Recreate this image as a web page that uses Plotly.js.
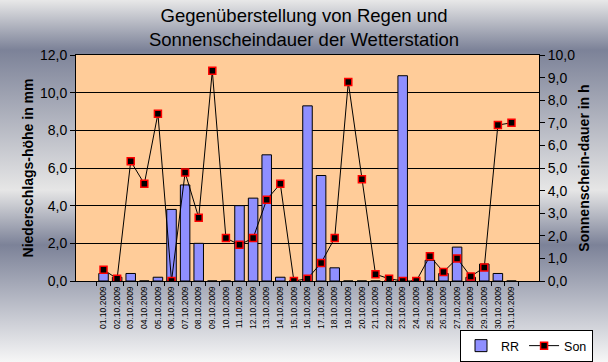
<!DOCTYPE html>
<html>
<head>
<meta charset="utf-8">
<script src="https://cdn.plot.ly/plotly-3.0.1.min.js"></script>
<style>
html,body{margin:0;padding:0;}
body{width:608px;height:362px;overflow:hidden;
background:linear-gradient(to bottom,#e8e8e8 0px,#7c8298 50px,#e6e6e6 190px,#7c8298 245px,#f6f6f6 362px);}
#chart{width:608px;height:362px;}
</style>
</head>
<body>
<div id="chart"></div>
<script>
const dates = ["01.10.2009","02.10.2009","03.10.2009","04.10.2009","05.10.2009","06.10.2009","07.10.2009","08.10.2009","09.10.2009","10.10.2009","11.10.2009","12.10.2009","13.10.2009","14.10.2009","15.10.2009","16.10.2009","17.10.2009","18.10.2009","19.10.2009","20.10.2009","21.10.2009","22.10.2009","23.10.2009","24.10.2009","25.10.2009","26.10.2009","27.10.2009","28.10.2009","29.10.2009","30.10.2009","31.10.2009"];
const rainMM = [0.4,0.2,0.4,0.0,0.2,3.8,5.1,2.0,0.0,0.0,4.0,4.4,6.7,0.2,0.0,9.3,5.6,0.7,0.0,0.0,0.0,0.0,10.9,0.0,1.1,0.4,1.8,0.2,0.9,0.4,0.0];
const sunH = [0.5,0.1,5.3,4.3,7.4,0.0,4.8,2.8,9.3,1.9,1.6,1.9,3.6,4.3,0.0,0.1,0.8,1.9,8.8,4.5,0.3,0.1,0.0,0.0,1.1,0.4,1.0,0.2,0.6,6.9,7.0];
const seriesNames = ["RR","Son"];
const titleText = "Gegenüberstellung von Regen und<br>Sonnenscheindauer der Wetterstation";
const yTitle = "Niederschlags-höhe in mm";
const y2Title = "Sonnenschein-dauer in h";

const F = "Liberation Sans, Arial, sans-serif";

const traces = [
  {type:"bar", name:seriesNames[0], x:dates, y:rainMM, yaxis:"y",
   marker:{color:"#ffffff", line:{color:"#000000", width:1},
     pattern:{shape:".", fgcolor:"#0000ff", bgcolor:"#ffffff", size:2, solidity:0.5}},
   hoverinfo:"skip"},
  {type:"scatter", mode:"lines+markers", name:seriesNames[1], x:dates, y:sunH, yaxis:"y2",
   line:{color:"#000000", width:1},
   marker:{symbol:"square", size:7, color:"#000000", line:{color:"#ff0000", width:1.5}},
   hoverinfo:"skip"}
];

const layout = {
  width:608, height:362,
  paper_bgcolor:"rgba(0,0,0,0)",
  plot_bgcolor:"#ffcc99",
  separators:",.",
  margin:{l:76, r:69, t:55, b:81, pad:0},
  font:{family:F, color:"#000000", size:12},
  title:{text:titleText, font:{family:F, size:18.5, color:"#000000"},
    x:0.5, xref:"container", y:1-22/362, yref:"container", yanchor:"top", xanchor:"center"},
  bargap:0.3,
  showlegend:true,
  legend:{orientation:"h", xref:"container", yref:"container", x:593/608, xanchor:"right",
    y:1-330/362, yanchor:"top", bgcolor:"#ffffff", bordercolor:"#000000", borderwidth:1,
    font:{family:F, size:12.5, color:"#000000"}, itemwidth:30, tracegroupgap:0},
  xaxis:{type:"category", tickangle:-90, tickfont:{family:F, size:8.5},
    showline:true, linecolor:"#000000", linewidth:1, mirror:true,
    ticks:"outside", tickson:"boundaries", ticklen:4, tickcolor:"#000000",
    ticklabelstandoff:1,
    showgrid:false, zeroline:false, fixedrange:true},
  yaxis:{range:[0,12], dtick:2, tickformat:".1f", tickfont:{family:F, size:14},
    showline:true, linecolor:"#000000", linewidth:1,
    ticks:"outside", ticklen:5, tickcolor:"#000000",
    showgrid:true, gridcolor:"#000000", gridwidth:1, zeroline:false,
    title:{text:"<b>"+yTitle+"</b>", font:{family:F, size:14}, standoff:3}},
  yaxis2:{range:[0,10], dtick:1, tickformat:".1f", tickfont:{family:F, size:14},
    overlaying:"y", side:"right",
    showline:true, linecolor:"#000000", linewidth:1,
    ticks:"outside", ticklen:5, tickcolor:"#000000",
    showgrid:false, zeroline:false,
    title:{text:"<b>"+y2Title+"</b>", font:{family:F, size:14}, standoff:4}}
};

Plotly.newPlot("chart", traces, layout, {displayModeBar:false, staticPlot:true});
</script>
</body>
</html>
